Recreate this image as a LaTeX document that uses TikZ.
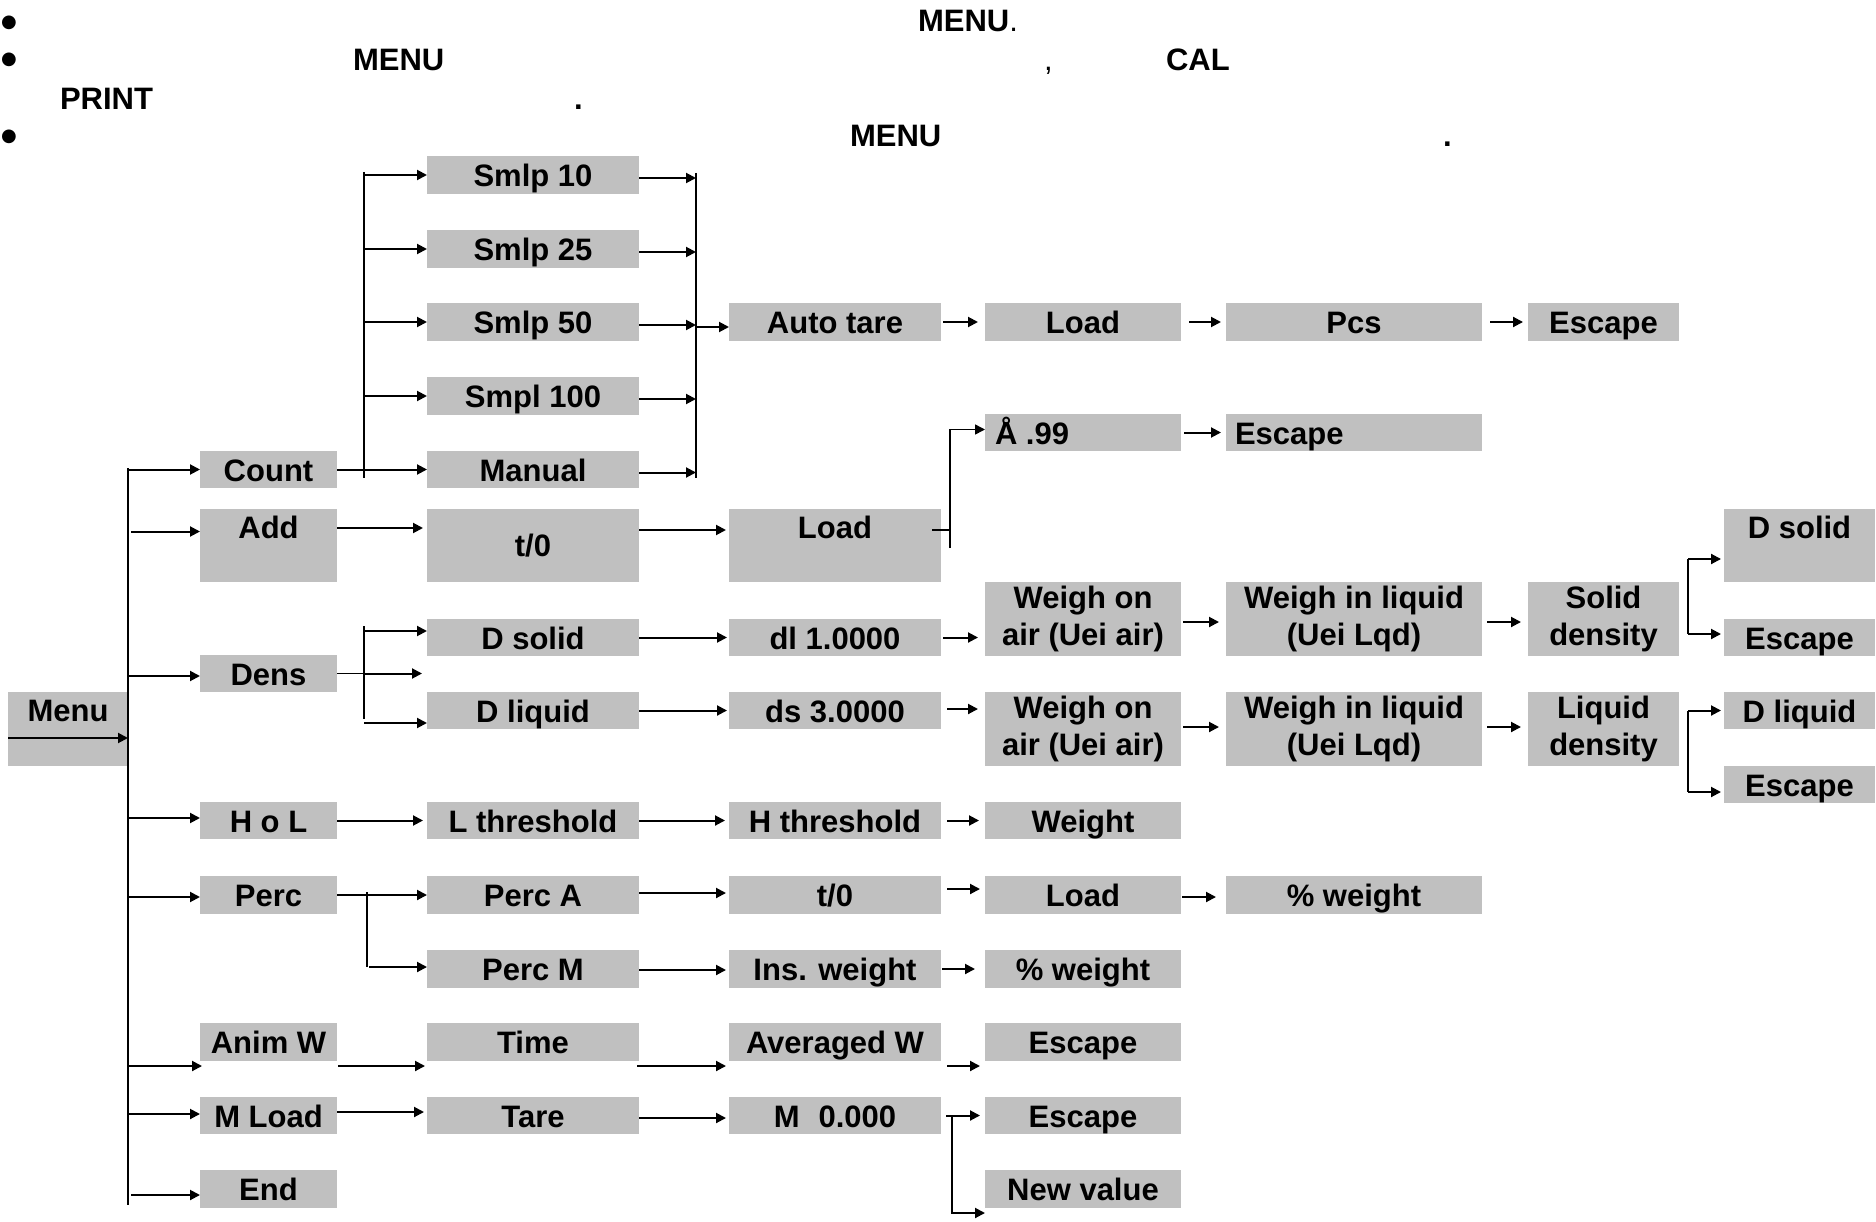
\documentclass[tikz,border=0pt]{standalone}
\usepackage{fontspec}
\setmainfont{Liberation Sans}
\newfontfamily\dejavu{DejaVu Sans}
\usetikzlibrary{arrows.meta,calc}
\definecolor{boxgray}{RGB}{192,192,192}
\begin{document}
\begin{tikzpicture}[x=1pt,y=-1pt,
  base/.style={fill=boxgray,inner sep=0pt,outer sep=0pt,anchor=north west,font=\fontsize{31}{37}\selectfont\bfseries},
  one/.style={base,text height=30pt,text depth=7pt},
  tophalf/.style={base,text height=29pt,text depth=44pt},
  two/.style={base,align=center},
  txt/.style={inner sep=0pt,outer sep=0pt,anchor=base west,font=\fontsize{31}{37}\selectfont\bfseries},
  bul/.style={inner sep=0pt,outer sep=0pt,anchor=center,font=\dejavu\fontsize{18}{20}\selectfont},
  ln/.style={line width=2pt},
  arr/.style={line width=2pt,-{Triangle[length=10pt,width=10pt]}},
]
\useasboundingbox (0,0) rectangle (1876,1222);

% ---------- header text ----------
\node[bul] (b1) at (9,23) {●};
\node[bul] (b2) at (9,60) {●};
\node[bul] (b3) at (9,137) {●};
\node[txt] (t1) at (918,32) {MENU\mdseries.};
\node[txt] (t2) at (353,71) {MENU};
\node[txt,font=\fontsize{31}{37}\selectfont] (t3) at (1044,71) {,};
\node[txt] (t4) at (1166,71) {CAL};
\node[txt] (t5) at (60,110) {PRINT};
\node[txt] (t6) at (574,110) {.};
\node[txt] (t7) at (850,147) {MENU};
\node[txt] (t8) at (1443,147) {.};

% ---------- menu + column 1 ----------
\node[base,text height=29pt,text depth=45pt,minimum width=120,minimum height=74] (menu) at (8,692) {Menu};
\node[one,minimum width=137,minimum height=37] (count) at (200,451) {Count};
\node[tophalf,minimum width=137,minimum height=73] (add) at (200,509) {Add};
\node[one,minimum width=137,minimum height=37] (dens) at (200,655) {Dens};
\node[one,minimum width=137,minimum height=37] (hol) at (200,802) {H o L};
\node[one,minimum width=137,minimum height=38] (perc) at (200,876) {Perc};
\node[one,minimum width=137,minimum height=38] (animw) at (200,1023) {Anim W};
\node[one,minimum width=137,minimum height=37] (mload) at (200,1097) {M Load};
\node[one,minimum width=137,minimum height=38] (endb) at (200,1170) {End};

% ---------- column 2 ----------
\node[one,minimum width=212,minimum height=38] (smlp10) at (427,156) {Smlp 10};
\node[one,minimum width=212,minimum height=38] (smlp25) at (427,230) {Smlp 25};
\node[one,minimum width=212,minimum height=38] (smlp50) at (427,303) {Smlp 50};
\node[one,minimum width=212,minimum height=38] (smpl100) at (427,377) {Smpl 100};
\node[one,minimum width=212,minimum height=37] (manual) at (427,451) {Manual};
\node[base,text height=47pt,text depth=26pt,minimum width=212,minimum height=73] (tzero) at (427,509) {t/0};
\node[one,minimum width=212,minimum height=37] (dsolid) at (427,619) {D solid};
\node[one,minimum width=212,minimum height=37] (dliquid) at (427,692) {D liquid};
\node[one,minimum width=212,minimum height=37] (lthr) at (427,802) {L threshold};
\node[one,minimum width=212,minimum height=38] (perca) at (427,876) {Perc A};
\node[one,minimum width=212,minimum height=38] (percm) at (427,950) {Perc M};
\node[one,minimum width=212,minimum height=38] (time) at (427,1023) {Time};
\node[one,minimum width=212,minimum height=37] (tare) at (427,1097) {Tare};

% ---------- column 3 ----------
\node[one,minimum width=212,minimum height=38] (autotare) at (729,303) {Auto tare};
\node[tophalf,minimum width=212,minimum height=73] (loadb) at (729,509) {Load};
\node[one,minimum width=212,minimum height=37] (dl) at (729,619) {dl 1.0000};
\node[one,minimum width=212,minimum height=37] (ds) at (729,692) {ds 3.0000};
\node[one,minimum width=212,minimum height=37] (hthr) at (729,802) {H threshold};
\node[one,minimum width=212,minimum height=38] (tzerob) at (729,876) {t/0};
\node[one,minimum width=212,minimum height=38] (ins) at (729,950) {Ins. weight};
\node[one,minimum width=212,minimum height=38] (avgw) at (729,1023) {Averaged W};
\node[one,minimum width=212,minimum height=37] (mzero) at (729,1097) {M\hspace{19pt}0.000};

% ---------- column 4 ----------
\node[one,minimum width=196,minimum height=38] (loada) at (985,303) {Load};
\node[one,minimum width=196,minimum height=37] (a99) at (985,414) {\makebox[196pt][l]{\hspace{10pt}Å .99}};
\node[two,minimum width=196,minimum height=74] (woa1) at (985,582) {Weigh on\\air (Uei air)};
\node[two,minimum width=196,minimum height=74] (woa2) at (985,692) {Weigh on\\air (Uei air)};
\node[one,minimum width=196,minimum height=37] (weight) at (985,802) {Weight};
\node[one,minimum width=196,minimum height=38] (loadc) at (985,876) {Load};
\node[one,minimum width=196,minimum height=38] (pw2) at (985,950) {\% weight};
\node[one,minimum width=196,minimum height=38] (esc3) at (985,1023) {Escape};
\node[one,minimum width=196,minimum height=37] (esc4) at (985,1097) {Escape};
\node[one,minimum width=196,minimum height=38] (newval) at (985,1170) {New value};

% ---------- column 5 ----------
\node[one,minimum width=256,minimum height=38] (pcs) at (1226,303) {Pcs};
\node[one,minimum width=256,minimum height=37] (esc2) at (1226,414) {\makebox[256pt][l]{\hspace{9pt}Escape}};
\node[two,minimum width=256,minimum height=74] (wil1) at (1226,582) {Weigh in liquid\\(Uei Lqd)};
\node[two,minimum width=256,minimum height=74] (wil2) at (1226,692) {Weigh in liquid\\(Uei Lqd)};
\node[one,minimum width=256,minimum height=38] (pw1) at (1226,876) {\% weight};

% ---------- column 6 ----------
\node[one,minimum width=151,minimum height=38] (esc1) at (1528,303) {Escape};
\node[two,minimum width=151,minimum height=74] (sd) at (1528,582) {Solid\\density};
\node[two,minimum width=151,minimum height=74] (ld) at (1528,692) {Liquid\\density};

% ---------- column 7 ----------
\node[tophalf,minimum width=151,minimum height=73] (dsolidr) at (1724,509) {D solid};
\node[one,minimum width=151,minimum height=37] (escr1) at (1724,619) {Escape};
\node[one,minimum width=151,minimum height=37] (dliquidr) at (1724,692) {D liquid};
\node[one,minimum width=151,minimum height=37] (escr2) at (1724,766) {Escape};

% ---------- trunk ----------
\coordinate (trunk) at (128,468);
\coordinate (trunkend) at (128,1205);
\draw[ln] (trunk) -- (trunkend);
\draw[arr] ($(menu.west)+(0,9)$) -- ++(120,0);
\draw[arr] (trunk |- count.west) -- (count.west);
\draw[arr] ($(trunk |- add.west)+(3,-14)$) -- ($(add.west)+(0,-14)$);
\draw[arr] ($(trunk |- dens.west)+(0,2.5)$) -- ($(dens.west)+(0,2.5)$);
\draw[arr] ($(trunk |- hol.west)+(0,-2.5)$) -- ($(hol.west)+(0,-2.5)$);
\draw[arr] ($(trunk |- perc.west)+(0,2)$) -- ($(perc.west)+(0,2)$);
\draw[arr] ($(trunk |- animw.west)+(0,24)$) -- ($(animw.west)+(2,24)$);
\draw[arr] ($(trunk |- mload.west)+(0,-1.5)$) -- ($(mload.west)+(0,-1.5)$);
\draw[arr] ($(trunk |- endb.west)+(3,6)$) -- ($(endb.west)+(0,6)$);

% ---------- count branch ----------
\coordinate (cv) at ($(count.east)+(27,0)$);
\draw[ln] (count.east) -- (cv);
\draw[ln] ($(cv |- smlp10.west)+(0,-3)$) -- ($(cv |- manual.west)+(0,8)$);
\foreach \n in {smlp10,smlp25,smlp50,smpl100,manual}
  \draw[arr] (cv |- \n.west) -- (\n.west);
\coordinate (rv) at ($(smlp10.east)+(57,0)$);
\draw[ln] ($(rv)+(0,-2)$) -- ($(rv |- manual.east)+(0,8)$);
\foreach \n in {smlp10,smlp25,smlp50,smpl100,manual}
  \draw[arr] ($(\n.east)+(0,3)$) -- ($(rv |- \n.east)+(0,3)$);
\draw[arr] ($(rv |- smlp50.east)+(0,5)$) -- ($(autotare.west)+(0,5)$);
\draw[arr,shorten <=2pt,shorten >=7pt] (autotare.east) -- (loada.west);
\draw[arr,shorten <=8pt,shorten >=5pt] (loada.east) -- (pcs.west);
\draw[arr,shorten <=8pt,shorten >=5pt] (pcs.east) -- (esc1.west);

% ---------- add branch ----------
\draw[arr] ($(add.north east)+(0,19)$) -- ($(tzero.north west)+(-4,19)$);
\draw[arr] ($(tzero.north east)+(0,21)$) -- ($(loadb.north west)+(-3,21)$);
\coordinate (av) at ($(loadb.north east)+(9,21)$);
\draw[ln,line width=1.5pt] ($(av)+(-18,0)$) -- (av);
\draw[arr,line width=1.5pt] ($(av)+(0,18)$) -- ($(av |- a99.west)+(0,-3)$) -- ($(a99.west)+(0,-3)$);
\draw[arr,shorten <=3pt,shorten >=5pt] (a99.east) -- (esc2.west);

% ---------- dens branch ----------
\coordinate (dv) at ($(dens.east)+(27,0)$);
\draw[ln,line width=1.5pt] (dens.east) -- (dv);
\draw[ln,line width=1.5pt] ($(dv |- dsolid.west)+(0,-11.5)$) -- ($(dv |- dliquid.west)+(0,8.5)$);
\draw[arr] ($(dv |- dsolid.west)+(0,-6.5)$) -- ($(dsolid.west)+(0,-6.5)$);
\coordinate (dmid) at ($(dv)+(58,0)$);
\draw[arr] (dv) -- (dmid);
\draw[arr] ($(dv |- dliquid.west)+(0,12.5)$) -- ($(dliquid.west)+(0,12.5)$);
\draw[arr,shorten >=2pt] (dsolid.east) -- (dl.west);
\draw[arr,shorten >=2pt] (dliquid.east) -- (ds.west);
\draw[arr,shorten <=2pt,shorten >=7pt] (dl.east) -- (dl.east -| woa1.west);
\draw[arr,shorten <=2pt,shorten >=7pt] ($(woa1.east)+(0,3)$) -- ($(wil1.west)+(0,3)$);
\draw[arr,shorten <=5pt,shorten >=7pt] ($(wil1.east)+(0,3)$) -- ($(sd.west)+(0,3)$);
\draw[arr,shorten <=6pt,shorten >=7pt] ($(ds.east)+(0,-1.5)$) -- ($(ds.east -| woa2.west)+(0,-1.5)$);
\draw[arr,shorten <=2pt,shorten >=7pt] ($(woa2.east)+(0,-2)$) -- ($(wil2.west)+(0,-2)$);
\draw[arr,shorten <=5pt,shorten >=7pt] ($(wil2.east)+(0,-2)$) -- ($(ld.west)+(0,-2)$);
\coordinate (sv) at ($(sd.east)+(9,0)$);
\draw[ln,line width=1.5pt] ($(sv |- dsolidr.west)+(0,13.5)$) -- ($(sv |- escr1.west)+(0,-3.5)$);
\draw[arr,shorten >=3pt] ($(sv |- dsolidr.west)+(0,13.5)$) -- ($(dsolidr.west)+(0,13.5)$);
\draw[arr,shorten >=3pt] ($(sv |- escr1.west)+(0,-3.5)$) -- ($(escr1.west)+(0,-3.5)$);
\coordinate (lv) at ($(ld.east)+(9,0)$);
\draw[ln,line width=1.5pt] (lv |- dliquidr.west) -- ($(lv |- escr2.west)+(0,7.5)$);
\draw[arr,shorten >=3pt] (lv |- dliquidr.west) -- (dliquidr.west);
\draw[arr,shorten >=3pt] ($(lv |- escr2.west)+(0,7.5)$) -- ($(escr2.west)+(0,7.5)$);

% ---------- H o L ----------
\draw[arr,shorten >=4pt] (hol.east) -- (lthr.west);
\draw[arr,shorten >=4pt] (lthr.east) -- (hthr.west);
\draw[arr,shorten <=6pt,shorten >=6pt] (hthr.east) -- (weight.west);

% ---------- Perc ----------
\draw[arr] (perc.east) -- (perca.west);
\coordinate (pv) at ($(perc.east)+(30,0)$);
\draw[ln,line width=1.5pt] ($(pv)+(0,-3)$) -- ($(pv |- percm.west)+(0,-2)$);
\draw[arr] ($(pv |- percm.west)+(2,-2)$) -- ($(percm.west)+(0,-2)$);
\draw[arr,shorten >=3pt] ($(perca.east)+(0,-2)$) -- ($(tzerob.west)+(0,-2)$);
\draw[arr,shorten <=6pt,shorten >=5pt] ($(tzerob.east)+(0,-6)$) -- ($(loadc.west)+(0,-6)$);
\draw[arr,shorten <=1pt,shorten >=10pt] ($(loadc.east)+(0,2)$) -- ($(pw1.west)+(0,2)$);
\draw[arr,shorten >=3pt] ($(percm.east)+(0,1)$) -- ($(ins.west)+(0,1)$);
\draw[arr,shorten <=1pt,shorten >=10pt] (ins.east) -- (pw2.west);

% ---------- Anim W ----------
\draw[arr,shorten <=1pt,shorten >=2pt] ($(animw.east)+(0,24)$) -- ($(time.west)+(0,24)$);
\draw[arr,shorten >=3pt] ($(time.east)+(-2,24)$) -- ($(avgw.west)+(0,24)$);
\draw[arr,shorten <=6pt,shorten >=5pt] ($(avgw.east)+(0,24)$) -- ($(esc3.west)+(0,24)$);

% ---------- M Load ----------
\draw[arr] ($(mload.east)+(0,-3.5)$) -- ($(tare.west)+(-3,-3.5)$);
\draw[arr,shorten >=3pt] ($(tare.east)+(0,2.5)$) -- ($(mzero.west)+(0,2.5)$);
\coordinate (mv) at ($(mzero.east)+(11,0)$);
\draw[arr,shorten >=5pt] ($(mzero.east)+(5,0)$) -- (esc4.west);
\draw[arr] (mv) -- ($(mv |- newval.west)+(0,24)$) -- ($(newval.west)+(0,24)$);
\end{tikzpicture}
\end{document}
